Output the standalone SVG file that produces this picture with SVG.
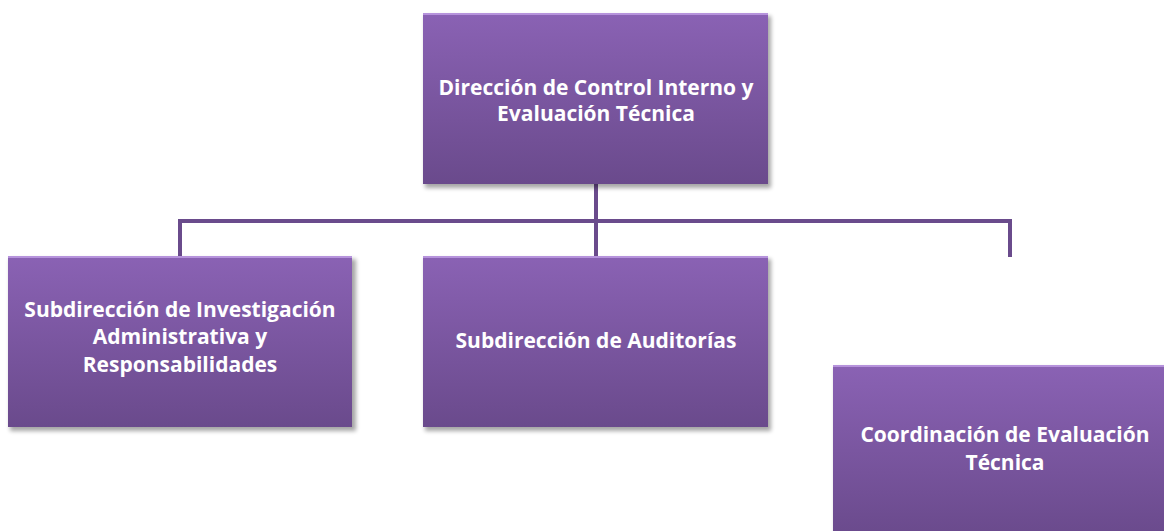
<svg xmlns="http://www.w3.org/2000/svg" width="1164" height="531" viewBox="0 0 1164 531">
<style>
.box{fill:url(#g);}
.shadow{fill:#000;opacity:0.35;filter:url(#blur);}
.hl{fill:#c9a8ec;}
.lbl{font-family:"Open Sans","Noto Sans",sans-serif;font-weight:bold;font-size:21px;fill:#ffffff;text-anchor:middle;}
.conn{fill:none;stroke:#6a4b8c;stroke-width:4;}
</style>
<defs>
<linearGradient id="g" x1="0" y1="0" x2="0" y2="1">
<stop offset="0" stop-color="#8a62b4"/>
<stop offset="1" stop-color="#6a4a8c"/>
</linearGradient>
<filter id="blur" x="-10%" y="-10%" width="120%" height="130%"><feGaussianBlur stdDeviation="2"/></filter>
</defs>
<rect width="1164" height="531" fill="#ffffff"/>
<g id="connectors">
<path class="conn" d="M596 184 V221 M180 256 V221 H1010 V257 M596 221 V256"/>
</g>
<g id="n1">
<rect class="shadow" x="425" y="16" width="346" height="172"/>
<rect class="box" x="423" y="13" width="345" height="171"/>
<rect class="hl" x="423" y="13" width="345" height="2" opacity="0.7"/>
<text class="lbl" x="596" y="95">Dirección de Control Interno y</text>
<text class="lbl" x="596" y="121">Evaluación Técnica</text>
</g>
<g id="n2">
<rect class="shadow" x="10" y="259" width="346" height="172"/>
<rect class="box" x="8" y="256" width="344" height="171"/>
<rect class="hl" x="8" y="256" width="344" height="2" opacity="0.7"/>
<text class="lbl" x="180" y="317">Subdirección de Investigación</text>
<text class="lbl" x="180" y="344">Administrativa y</text>
<text class="lbl" x="180" y="372">Responsabilidades</text>
</g>
<g id="n3">
<rect class="shadow" x="425" y="259" width="346" height="172"/>
<rect class="box" x="423" y="256" width="345" height="171"/>
<rect class="hl" x="423" y="256" width="345" height="2" opacity="0.7"/>
<text class="lbl" x="596" y="348">Subdirección de Auditorías</text>
</g>
<g id="n4">
<rect class="shadow" x="835" y="368" width="346" height="172"/>
<rect class="box" x="833" y="365" width="345" height="171"/>
<rect class="hl" x="833" y="365" width="345" height="2" opacity="0.7"/>
<text class="lbl" x="1005" y="442">Coordinación de Evaluación</text>
<text class="lbl" x="1005" y="470">Técnica</text>
</g>
</svg>
